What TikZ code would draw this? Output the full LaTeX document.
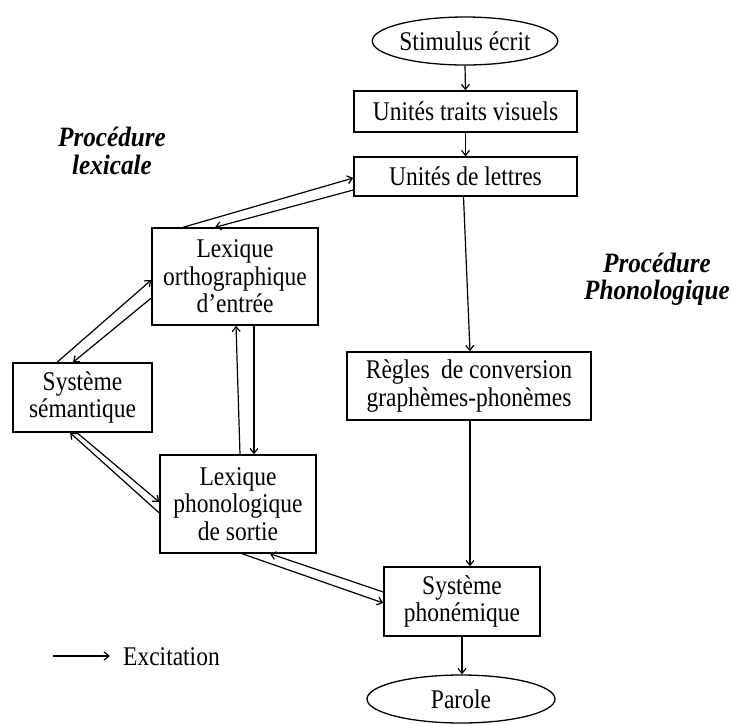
\documentclass[tikz,border=0pt]{standalone}
\usepackage{fontspec}
\setmainfont{Liberation Serif}[FakeStretch=0.87]
\newfontfamily\procfont{Liberation Serif}[FakeStretch=0.9]
\usetikzlibrary{arrows.meta,shapes.geometric,calc}
\begin{document}
\begin{tikzpicture}[x=1pt,y=-1pt,
  txt/.style={font=\fontsize{27}{27.5}\selectfont},
  box/.style={txt,draw,line width=1.4pt,inner sep=0pt,align=center},
  oval/.style={txt,draw,ellipse,line width=1.3pt,inner sep=0pt},
  arr/.style={-{Straight Barb[length=5pt,width=8pt]},line width=1.2pt},
  proc/.style={align=center,inner sep=0pt,font=\procfont\fontsize{28}{27.5}\selectfont\bfseries\itshape}]
\useasboundingbox (0,0) rectangle (732,724);
\node[oval,minimum width=185pt,minimum height=48pt] (stim) at (465,41) {Stimulus écrit};
\node[box,minimum width=223pt,minimum height=41pt] (traits) at (465.5,111.5) {Unités traits visuels};
\node[box,minimum width=223pt,minimum height=39pt] (lettres) at (465.5,176.5) {Unités de lettres};
\node[box,minimum width=166pt,minimum height=97pt] (lexortho) at (235,276.5) {Lexique\\orthographique\\d’entrée};
\node[box,minimum width=139pt,minimum height=69pt] (sem) at (82.5,397.5) {Système\\sémantique};
\node[box,minimum width=156pt,minimum height=98pt] (lexphono) at (238,504) {Lexique\\phonologique\\de sortie};
\node[box,minimum width=244pt,minimum height=68pt] (regles) at (469,386) {Règles\hspace{0.2em} de conversion\\graphèmes-phonèmes};
\node[box,minimum width=156pt,minimum height=69pt] (phon) at (462,601.5) {Système\\phonémique};
\node[oval,minimum width=188pt,minimum height=48pt] (parole) at (461,699) {Parole};
\node[proc] (plex) at (112,151) {Procédure\\lexicale};
\node[proc] (pphon) at (657,279) {Procédure\\Phonologique};
\node[txt,anchor=west,inner sep=0pt] (exl) at (123,657) {Excitation};
\coordinate (exA) at (53,656);
\coordinate (exB) at (110,656);

\draw[arr] (stim.south) -- (traits.north);
\draw[arr] (traits.south) -- (lettres.north);
\draw[arr] ($(lettres.south)+(-2,0)$) -- ($(regles.north)+(1,0)$);
\draw[arr] ($(regles.south)+(1,0)$) -- ($(regles.south |- phon.north)+(1,0)$);
\draw[arr] (phon.south) -- (phon.south |- parole.north);

\draw[arr] ($(lexortho.north)+(-52,0)$) -- ($(lettres.west)+(0,1.5)$);
\draw[arr] ($(lettres.west)+(0,13.5)$) -- ($(lexortho.north)+(-20,0)$);
\draw[arr] ($(sem.north)+(-25.5,0)$) -- ($(lexortho.west)+(0,3.5)$);
\draw[arr] ($(lexortho.west)+(0,21.5)$) -- ($(sem.north)+(-9.5,0)$);
\draw[arr] ($(lexphono.north)+(2,0)$) -- ($(lexortho.south)+(1,0)$);
\draw[arr] ($(lexortho.south)+(19,0)$) -- ($(lexphono.north)+(16,0)$);
\draw[arr] ($(lexphono.west)+(0,9)$) -- ($(sem.south)+(-12.5,0)$);
\draw[arr] ($(sem.south)+(-5.5,0)$) -- ($(lexphono.west)+(0,-2)$);
\draw[arr] ($(lexphono.south)+(4,0)$) -- ($(phon.west)+(0,1.5)$);
\draw[arr] ($(phon.west)+(0,-9.5)$) -- ($(lexphono.south)+(32,0)$);
\draw[arr] (exA) -- (exB);
\end{tikzpicture}
\end{document}
